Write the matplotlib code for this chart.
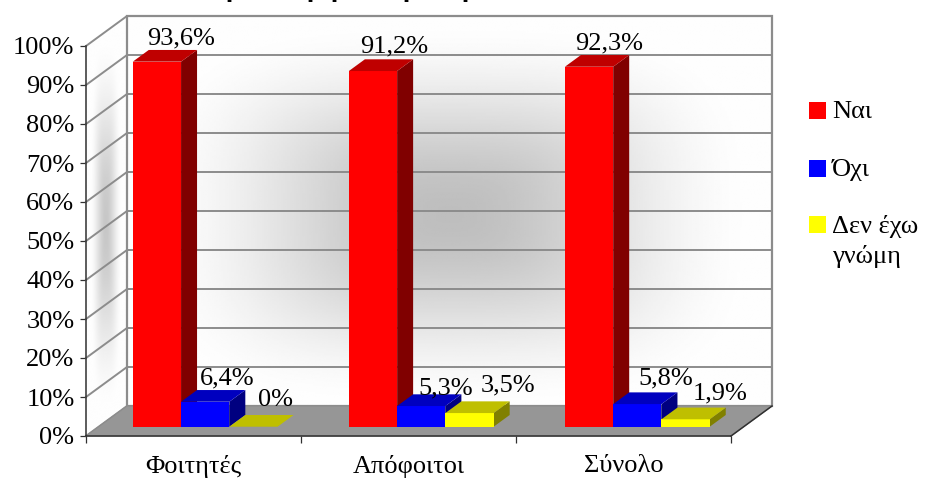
import numpy as np
import matplotlib
matplotlib.use("Agg")
import matplotlib.pyplot as plt
from matplotlib.patches import Polygon, Rectangle

categories = ["Φοιτητές", "Απόφοιτοι", "Σύνολο"]
series_names = ["Ναι", "Όχι", "Δεν έχω\nγνώμη"]
nai = [93.6, 91.2, 92.3]
ochi = [6.4, 5.3, 5.8]
den_echo = [0.0, 3.5, 1.9]
value_labels = [["93,6%", "91,2%", "92,3%"],
                ["6,4%", "5,3%", "5,8%"],
                ["0%", "3,5%", "1,9%"]]
y_ticks = list(range(0, 101, 10))

# layout (pixels of the 925x480 canvas)
W, H = 925, 480
X0, X3, Y0, Y100 = 86, 731, 436, 46
DX, DY = 41, 30
UX = (X3 - X0) / 3
UY = (Y0 - Y100) / 100
FS = 19
FONT = "Liberation Serif"
plt.rcParams["font.family"] = FONT

fig = plt.figure(figsize=(W / 100, H / 100), dpi=100)
ax = fig.add_axes([0, 0, 1, 1])
ax.set_xlim(-X0 / UX, (W - X0) / UX)
ax.set_ylim((Y0 - H) / UY, Y0 / UY)
ax.patch.set_visible(False)

def xd(px): return (px - X0) / UX
def yd(py): return (Y0 - py) / UY
def P(x, v, d=0.0):
    return (x + d * DX / UX, v + d * DY / UY)

def smooth(t):
    t = np.clip(t, 0, 1)
    return t * t * (3 - 2 * t)

def wall(px0, px1, py0, py1, cx, cy, sx, sy, dark, clip_pts, z, power=3.2):
    xs = np.linspace(px0, px1, 300)
    ys = np.linspace(py0, py1, 300)
    xx, yy = np.meshgrid(xs, ys)
    r = (np.abs((xx - cx) / sx) ** power + np.abs((yy - cy) / sy) ** power) ** (1 / power)
    g = dark + (0.995 - dark) * smooth(r)
    im = ax.imshow(g, cmap="gray", vmin=0, vmax=1, aspect="auto", zorder=z,
                   extent=(xd(px0), xd(px1), yd(py1), yd(py0)), interpolation="bilinear")
    im.set_clip_path(Polygon(clip_pts, transform=ax.transData))

back = [P(0, 0, 1), P(3, 0, 1), P(3, 100, 1), P(0, 100, 1)]
side = [P(0, 0, 0), P(0, 0, 1), P(0, 100, 1), P(0, 100, 0)]
wall(127, 773, 16, 406, 450, 215, 310, 195, 0.745, back, 1)
wall(86, 127, 16, 436, 106, 225, 16, 190, 0.78, side, 1)
ax.set_xlim(-X0 / UX, (W - X0) / UX)
ax.set_ylim((Y0 - H) / UY, Y0 / UY)

GRID = "#8c8c8c"
for v in y_ticks:
    ax.plot(*zip(P(0, v, 0), P(0, v, 1), P(3, v, 1)), color=GRID, lw=1.4, zorder=2,
            solid_joinstyle="miter")
ax.add_patch(Polygon(back, closed=True, fill=False, ec=GRID, lw=1.6, zorder=2))
ax.add_patch(Polygon([P(0, 0, 0), P(3, 0, 0), P(3, 0, 1), P(0, 0, 1)], closed=True,
                     fc="#969696", ec="#8c8c8c", lw=0.8, zorder=3))
ax.plot(*zip(P(3, 0, 0), P(3, 0, 1)), color="#303030", lw=1.1, zorder=4)

# bars
BAR_W = 0.2245
START = 0.1585
PITCH = 1.005
D0, D1 = 0.31, 0.70
palette = [("#ff0000", "#bf0000", "#800000"),
           ("#0000ff", "#0000bf", "#000080"),
           ("#ffff00", "#bfbf00", "#808000")]
label_shift = [[(24, 6), (21, 7), (20, 6)],
               [(22, 6), (24, 0), (28, 8)],
               [(22, 9), (38, 10), (35, 8)]]
z = 5
for g in range(3):
    for s, vals in enumerate((nai, ochi, den_echo)):
        x0 = g * PITCH + START + s * BAR_W
        x1 = x0 + BAR_W
        v = vals[g]
        fc, tc, sc = palette[s]
        if v > 0:
            ax.add_patch(Polygon([P(x1, 0, D0), P(x1, 0, D1), P(x1, v, D1), P(x1, v, D0)],
                                 fc=sc, ec="none", zorder=z))
            ax.add_patch(Polygon([P(x0, 0, D0), P(x1, 0, D0), P(x1, v, D0), P(x0, v, D0)],
                                 fc=fc, ec="none", zorder=z))
        ax.add_patch(Polygon([P(x0, v, D0), P(x1, v, D0), P(x1, v, D1), P(x0, v, D1)],
                             fc=tc, ec="none", zorder=z))
        z += 1

for g in range(3):
    for s, vals in enumerate((nai, ochi, den_echo)):
        cx = g * PITCH + START + (s + 0.5) * BAR_W
        tip = P(cx, vals[g], D1)
        sx, sy = label_shift[s][g]
        ax.annotate(value_labels[s][g], xy=(P(cx, vals[g], D0)[0], tip[1]),
                    xytext=(sx, sy), textcoords="offset pixels", ha="center", va="baseline",
                    fontsize=FS, color="black", zorder=30)

# axes: real ticks on the front edges
for name in ("top", "right"):
    ax.spines[name].set_visible(False)
ax.spines["left"].set_position(("data", 0))
ax.spines["bottom"].set_position(("data", 0))
ax.spines["left"].set_bounds(0, 100)
ax.spines["bottom"].set_bounds(0, 3)
for name in ("left", "bottom"):
    ax.spines[name].set_color("#303030")
    ax.spines[name].set_linewidth(1.1)
    ax.spines[name].set_zorder(20)
ax.set_yticks(y_ticks)
ax.set_yticklabels([f"{v}%" for v in y_ticks], fontsize=FS)
ax.set_xticks([0, 1, 2, 3])
ax.set_xticklabels([])
ax.set_xticks([0.5, 1.5, 2.5], minor=True)
ax.set_xticklabels(categories, minor=True, fontsize=FS)
ax.tick_params(axis="y", length=4.3, width=0.9, color="#303030", pad=4)
ax.tick_params(axis="x", which="major", length=4.8, width=0.9, color="#303030")
ax.tick_params(axis="x", which="minor", length=0, pad=14)

# legend
legend_rows = [(809, 102, 118), (809, 160, 176), (809, 216, 233)]
for (lx, ly, base), name, (fc, _, _) in zip(legend_rows, series_names, palette):
    ax.add_patch(Rectangle((xd(lx), yd(ly + 17)), 17 / UX, 17 / UY, fc=fc, ec="none",
                           zorder=10, clip_on=False))
    ax.text(xd(832), yd(base), name.split("\n")[0], fontsize=FS, va="baseline", ha="left")
    if "\n" in name:
        ax.text(xd(832), yd(base + 30), name.split("\n")[1], fontsize=FS, va="baseline", ha="left")

# the title is cut off by the top edge of the picture; only descenders remain
for px in (233, 314, 338, 410, 469):
    ax.text(xd(px), yd(-3), "ρ", fontsize=FS, fontweight="bold", ha="center", va="baseline")

fig.savefig("out.png", dpi=100)
